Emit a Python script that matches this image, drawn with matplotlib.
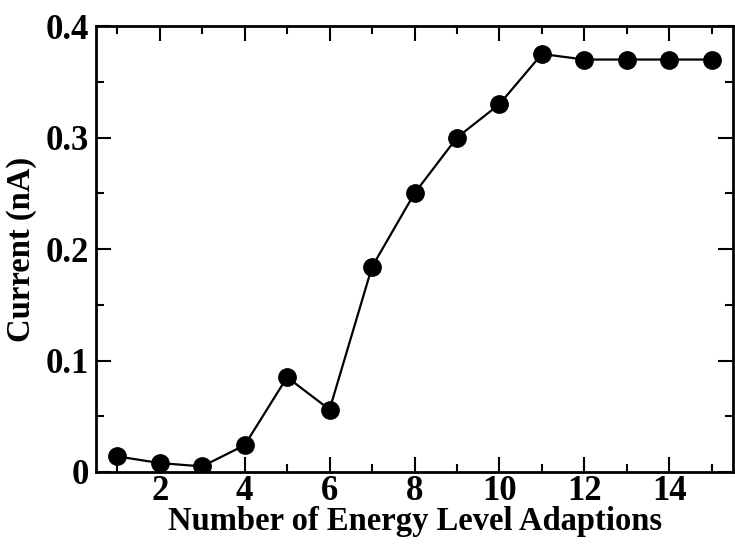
import matplotlib
matplotlib.use("Agg")
import matplotlib.pyplot as plt
from matplotlib.ticker import MultipleLocator, FuncFormatter

plt.rcParams['font.family'] = ['Liberation Serif', 'DejaVu Serif']
plt.rcParams['font.weight'] = 'bold'

# 数据
adaptions = [1, 2, 3, 4, 5, 6, 7, 8, 9, 10, 11, 12, 13, 14, 15]
current = [0.014, 0.008, 0.005, 0.024, 0.085, 0.056, 0.184, 0.250,
           0.300, 0.330, 0.375, 0.370, 0.370, 0.370, 0.370]

fig = plt.figure(figsize=(7.35, 5.44), dpi=100)
ax = fig.add_axes([0.1306, 0.1324, 0.8667, 0.8196])

ax.plot(adaptions, current, color='black', linewidth=1.6,
        marker='o', markersize=12.5)

ax.set_xlim(0.5, 15.5)
ax.set_ylim(0, 0.4)
ax.xaxis.set_major_locator(MultipleLocator(2))
ax.xaxis.set_minor_locator(MultipleLocator(1))
ax.yaxis.set_major_locator(MultipleLocator(0.1))
ax.yaxis.set_minor_locator(MultipleLocator(0.05))
ax.yaxis.set_major_formatter(FuncFormatter(lambda v, p: "0" if abs(v) < 1e-9 else "%.1f" % v))

ax.tick_params(which='both', direction='in', top=True, right=True, width=1.5)
ax.tick_params(which='major', length=11, labelsize=25)
ax.tick_params(axis='x', which='major', pad=2)
ax.tick_params(axis='y', which='major', pad=5)
ax.tick_params(which='minor', length=6)
for s in ax.spines.values():
    s.set_linewidth(2)
for lab in ax.get_xticklabels() + ax.get_yticklabels():
    lab.set_fontweight('bold')

ax.set_xlabel("Number of Energy Level Adaptions", fontsize=23.5, fontweight='bold', labelpad=-1)
ax.set_ylabel("Current (nA)", fontsize=23.5, fontweight='bold', labelpad=6)

fig.savefig("out.png", dpi=100)
